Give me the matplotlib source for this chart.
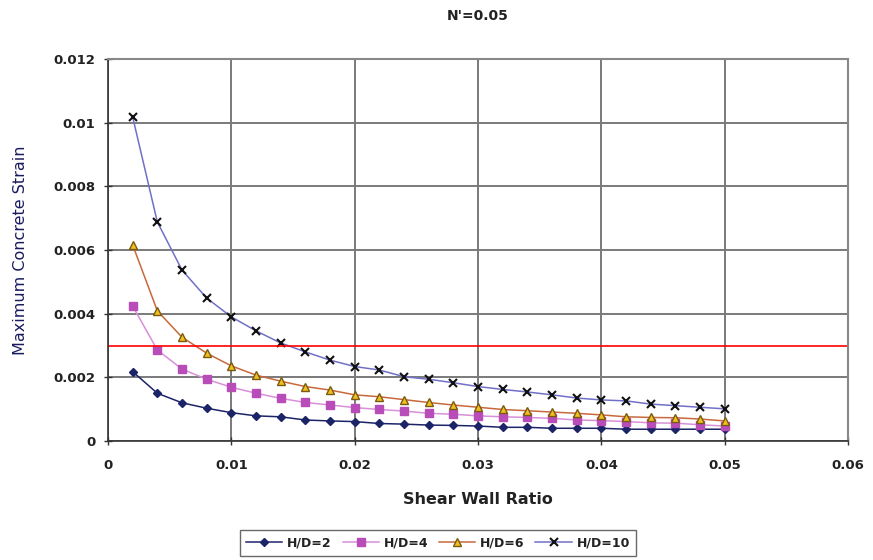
import numpy as np
import matplotlib.pyplot as plt

# Shear wall ratio (x) and max concrete strain for each H/D
ratio = [0.002, 0.004, 0.006, 0.008, 0.010, 0.012, 0.014, 0.016, 0.018, 0.020,
         0.022, 0.024, 0.026, 0.028, 0.030, 0.032, 0.034, 0.036, 0.038, 0.040,
         0.042, 0.044, 0.046, 0.048, 0.050]

hd2 = [0.00218, 0.00150, 0.00120, 0.00103, 0.00089, 0.00079, 0.00076, 0.00066,
       0.00063, 0.00061, 0.00055, 0.00053, 0.00050, 0.00049, 0.00047, 0.00043,
       0.00043, 0.00040, 0.00040, 0.00040, 0.00037, 0.00037, 0.00037, 0.00037,
       0.00037]
hd4 = [0.00424, 0.00286, 0.00226, 0.00194, 0.00169, 0.00150, 0.00134, 0.00121,
       0.00113, 0.00105, 0.00099, 0.00094, 0.00087, 0.00084, 0.00079, 0.00076,
       0.00074, 0.00071, 0.00066, 0.00064, 0.00061, 0.00057, 0.00056, 0.00051,
       0.00047]
hd6 = [0.00616, 0.00409, 0.00326, 0.00276, 0.00236, 0.00207, 0.00188, 0.00171,
       0.00160, 0.00145, 0.00139, 0.00130, 0.00121, 0.00113, 0.00106, 0.00099,
       0.00095, 0.00091, 0.00087, 0.00082, 0.00076, 0.00074, 0.00073, 0.00069,
       0.00063]
hd10 = [0.01018, 0.00688, 0.00537, 0.00449, 0.00390, 0.00346, 0.00308, 0.00280,
        0.00254, 0.00234, 0.00223, 0.00202, 0.00194, 0.00183, 0.00171, 0.00162,
        0.00154, 0.00145, 0.00135, 0.00129, 0.00126, 0.00116, 0.00111, 0.00106,
        0.00101]

strain_limit = 0.003

fig = plt.figure(figsize=(8.73, 5.6), dpi=100)
ax = fig.add_axes([0.1237, 0.2125, 0.8477, 0.6821])

ax.plot(ratio, hd2, color='#1c2468', marker='D', markersize=4.5, linewidth=1.1,
        markerfacecolor='#1c2468', markeredgecolor='#1c2468', label='H/D=2')
ax.plot(ratio, hd4, color='#d890d8', marker='s', markersize=5.5, linewidth=1.1,
        markerfacecolor='#b84cb8', markeredgecolor='#b84cb8', label='H/D=4')
ax.plot(ratio, hd6, color='#c8683c', marker='^', markersize=6, linewidth=1.1,
        markerfacecolor='#f0c020', markeredgecolor='#7a5a10', label='H/D=6')
ax.plot(ratio, hd10, color='#7070c8', marker='x', markersize=6, linewidth=1.1,
        markeredgecolor='#111111', markeredgewidth=1.5, label='H/D=10')

ax.axhline(strain_limit, color='red', linewidth=1.2)

ax.set_xlim(0, 0.06)
ax.set_ylim(0, 0.012)
ax.set_xticks([0, 0.01, 0.02, 0.03, 0.04, 0.05, 0.06])
ax.set_xticklabels(['0', '0.01', '0.02', '0.03', '0.04', '0.05', '0.06'])
ax.set_yticks([0, 0.002, 0.004, 0.006, 0.008, 0.01, 0.012])
ax.set_yticklabels(['0', '0.002', '0.004', '0.006', '0.008', '0.01', '0.012'])

ax.grid(True, color='#7a7a7a', linewidth=1.4)
ax.set_axisbelow(True)
ax.tick_params(direction='inout', length=6, width=1, colors='#333333',
               labelsize=9.5, pad=6)
for lbl in ax.get_xticklabels() + ax.get_yticklabels():
    lbl.set_fontweight('bold')
    lbl.set_color('#222222')
ax.tick_params(axis='x', pad=10)

for s in ['left', 'bottom']:
    ax.spines[s].set_color('#333333')
    ax.spines[s].set_linewidth(1.2)
for s in ['top', 'right']:
    ax.spines[s].set_color('#888888')
    ax.spines[s].set_linewidth(1.5)

ax.set_title("N'=0.05", fontsize=10, fontweight='bold', pad=28, color='#222222')
ax.set_xlabel('Shear Wall Ratio', fontsize=11.5, fontweight='bold',
              labelpad=14, color='#222222')
ax.set_ylabel('Maximum Concrete Strain', fontsize=11.5, color='#1a1a60',
              labelpad=18)

leg = ax.legend(loc='upper center', bbox_to_anchor=(0.446, -0.217), ncol=4,
                frameon=True, fancybox=False, edgecolor='#444444',
                fontsize=9, handlelength=2.9, columnspacing=0.85,
                handletextpad=0.4, borderpad=0.5)
for t in leg.get_texts():
    t.set_fontweight('bold')
    t.set_color('#222222')

fig.savefig('out.png', dpi=100)
